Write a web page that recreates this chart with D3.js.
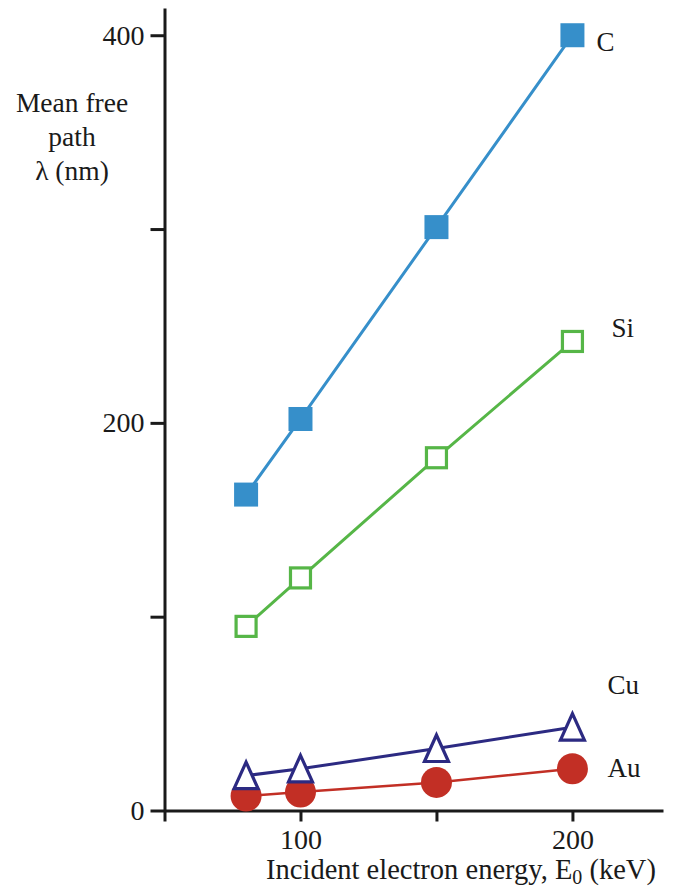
<!DOCTYPE html>
<html>
<head>
<meta charset="utf-8">
<script src="https://cdn.jsdelivr.net/npm/d3@7"></script>
<style>
  html, body { margin: 0; padding: 0; background: #fff; }
  svg text { font-family: "Liberation Serif", "DejaVu Serif", serif; fill: #1a1a1a; }
</style>
</head>
<body>
<div id="chart"></div>
<script>
// energies (keV)
const energies = [80, 100, 150, 200];

// mean free path (nm)
const carbon = [163, 202, 301, 400];
const silicon = [95, 120, 182, 242];
const copper = [18, 21.5, 32, 43];
const gold = [7.5, 9.5, 14.5, 21.5];

const xTicks = [50, 100, 150, 200];
const xTickLabels = ['', '100', '', '200'];
const yTicks = [0, 100, 200, 300, 400];
const yTickLabels = ['0', '', '200', '', '400'];

const width = 673, height = 888;
const serif = '"Liberation Serif", "DejaVu Serif", serif';

const svg = d3.select('#chart').append('svg')
    .attr('width', width)
    .attr('height', height)
    .style('font-family', serif);

// scales
const x = d3.scaleLinear().domain([50, 233.3]).range([164.5, 663]);
const y = d3.scaleLinear().domain([0, 414]).range([810.5, 8.1]);

const ink = '#1a1a1a';

// X axis
const xAxis = svg.append('g')
    .attr('transform', `translate(0,${y(0)})`)
    .call(d3.axisBottom(x)
        .tickValues(xTicks)
        .tickFormat((d, i) => xTickLabels[i])
        .tickSizeInner(11)
        .tickSizeOuter(0)
        .tickPadding(8));
xAxis.attr('font-family', serif);
xAxis.select('.domain').attr('stroke', ink).attr('stroke-width', 3);
xAxis.selectAll('.tick line').attr('stroke', ink).attr('stroke-width', 3);
xAxis.selectAll('.tick text').attr('font-size', 28).attr('fill', ink);

// Y axis
const yAxis = svg.append('g')
    .attr('transform', `translate(${x(50)},0)`)
    .call(d3.axisLeft(y)
        .tickValues(yTicks)
        .tickFormat((d, i) => yTickLabels[i])
        .tickSizeInner(14)
        .tickSizeOuter(0)
        .tickPadding(6));
yAxis.attr('font-family', serif);
yAxis.select('.domain').attr('stroke', ink).attr('stroke-width', 3);
yAxis.selectAll('.tick line').attr('stroke', ink).attr('stroke-width', 3);
yAxis.selectAll('.tick text').attr('font-size', 28).attr('fill', ink);

// Y title
const yTitle = svg.append('text')
    .attr('text-anchor', 'middle')
    .attr('font-size', 27.5);
yTitle.append('tspan').attr('x', 72).attr('y', 112).text('Mean free');
yTitle.append('tspan').attr('x', 72).attr('y', 146).text('path');
yTitle.append('tspan').attr('x', 72).attr('y', 180).text('λ (nm)');

// X title
const xTitle = svg.append('text')
    .attr('x', 461)
    .attr('y', 879)
    .attr('text-anchor', 'middle')
    .attr('font-size', 28.5);
xTitle.append('tspan').text('Incident electron energy, E');
xTitle.append('tspan').attr('dy', 5).attr('font-size', 20).text('0');
xTitle.append('tspan').attr('dy', -5).text(' (keV)');

const series = [
  { name: 'Au', values: gold, color: '#c22f25', shape: 'circle', lw: 2.5, label: [35, 8] },
  { name: 'Cu', values: copper, color: '#2c2a82', shape: 'triangle', lw: 3, label: [35, -33] },
  { name: 'Si', values: silicon, color: '#56b647', shape: 'openSquare', lw: 3, label: [39, -4] },
  { name: 'C', values: carbon, color: '#368fca', shape: 'square', lw: 3, label: [24, 16] }
];

const line = d3.line()
    .x(d => x(d[0]))
    .y(d => y(d[1]));

series.forEach(s => {
  const pts = energies.map((e, i) => [e, s.values[i]]);
  const g = svg.append('g').attr('class', 'series ' + s.name);

  g.append('path')
      .datum(pts)
      .attr('fill', 'none')
      .attr('stroke', s.color)
      .attr('stroke-width', s.lw)
      .attr('d', line);

  const m = g.selectAll('.mark').data(pts).enter();
  if (s.shape === 'circle') {
    m.append('circle')
        .attr('cx', d => x(d[0]))
        .attr('cy', d => y(d[1]))
        .attr('r', 15.5)
        .attr('fill', s.color);
  } else if (s.shape === 'triangle') {
    // triangle centred on its box
    m.append('path')
        .attr('transform', d => `translate(${x(d[0])},${y(d[1])})`)
        .attr('d', 'M0,-13.5 L12,13 L-12,13 Z')
        .attr('fill', '#fff')
        .attr('stroke', s.color)
        .attr('stroke-width', 3.2)
        .attr('stroke-linejoin', 'miter');
  } else if (s.shape === 'openSquare') {
    m.append('rect')
        .attr('x', d => x(d[0]) - 10)
        .attr('y', d => y(d[1]) - 10)
        .attr('width', 20)
        .attr('height', 20)
        .attr('fill', '#fff')
        .attr('stroke', s.color)
        .attr('stroke-width', 3.2);
  } else {
    m.append('rect')
        .attr('x', d => x(d[0]) - 12)
        .attr('y', d => y(d[1]) - 12)
        .attr('width', 24)
        .attr('height', 24)
        .attr('fill', s.color);
  }

  const last = pts[pts.length - 1];
  svg.append('text')
      .attr('x', x(last[0]) + s.label[0])
      .attr('y', y(last[1]) + s.label[1])
      .attr('font-size', 27)
      .text(s.name);
});
</script>
</body>
</html>
